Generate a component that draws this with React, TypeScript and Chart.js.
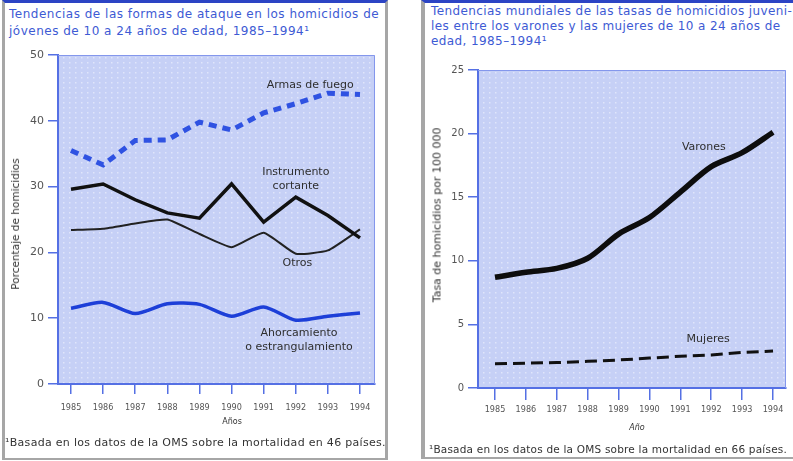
import React, { useEffect, useRef } from "react";
import { Chart, registerables } from "chart.js";

Chart.register(...registerables);

// ---------- data ----------
const years = [1985, 1986, 1987, 1988, 1989, 1990, 1991, 1992, 1993, 1994];

// Left chart: percentage of homicides by method
const armasDeFuego = [35.5, 33.3, 37.0, 37.1, 39.8, 38.6, 41.2, 42.6, 44.2, 44.0];
const instrumentoCortante = [29.6, 30.4, 28.0, 26.0, 25.2, 30.4, 24.6, 28.4, 25.6, 22.2];
const otros = [23.4, 23.6, 24.4, 25.0, 22.8, 20.8, 23.0, 19.8, 20.3, 23.5];
const ahorcamiento = [11.5, 12.4, 10.7, 12.2, 12.1, 10.3, 11.7, 9.7, 10.3, 10.8];

// Right chart: homicide rate per 100 000
const varones = [8.7, 9.1, 9.4, 10.2, 12.1, 13.4, 15.4, 17.4, 18.5, 20.1];
const mujeres = [1.9, 1.95, 2.0, 2.1, 2.2, 2.35, 2.5, 2.6, 2.8, 2.9];

const leftYTicks = [0, 10, 20, 30, 40, 50];
const rightYTicks = [0, 5, 10, 15, 20, 25];

const leftTitle = [
  "Tendencias de las formas de ataque en los homicidios de",
  "jóvenes de 10 a 24 años de edad, 1985–1994¹",
];
const rightTitle = [
  "Tendencias mundiales de las tasas de homicidios juveni-",
  "les entre los varones y las mujeres de 10 a 24 años de",
  "edad, 1985–1994¹",
];
const leftFootnote = "¹Basada en los datos de la OMS sobre la mortalidad en 46 países.";
const rightFootnote = "¹Basada en los datos de la OMS sobre la mortalidad en 66 países.";
const leftYTitle = "Porcentaje de homicidios";
const rightYTitle = "Tasa de homicidios por 100 000";
const leftXTitle = "Años";
const rightXTitle = "Año";

// series labels (data coordinates)
const leftLabels = [
  { lines: ["Armas de fuego"], x: 1992.45, y: 45.4 },
  { lines: ["Instrumento", "cortante"], x: 1992.0, y: 31.1 },
  { lines: ["Otros"], x: 1992.05, y: 18.4 },
  { lines: ["Ahorcamiento", "o estrangulamiento"], x: 1992.1, y: 6.7 },
];
const rightLabels = [
  { lines: ["Varones"], x: 1991.76, y: 18.95 },
  { lines: ["Mujeres"], x: 1991.9, y: 3.85 },
];

// ---------- styles ----------
const AXIS_BLUE = "#5570e4";
const PLOT_BG = "#c6d0f6";
const TICK_COLOR = "#555555";
const TITLE_BLUE = "#3d5ad4";
const NARROW = "'Liberation Sans Narrow', 'DejaVu Sans Condensed', sans-serif";

const bgPlugin = {
  id: "plotBg",
  beforeDraw(chart: any) {
    const { ctx, chartArea: a } = chart;
    ctx.save();
    ctx.fillStyle = PLOT_BG;
    ctx.fillRect(a.left, a.top, a.right - a.left, a.bottom - a.top);
    // light speckle texture
    ctx.fillStyle = "rgba(255,255,255,0.45)";
    for (let y = a.top + 2; y < a.bottom; y += 5) {
      const off = ((y - a.top) / 5) % 2 === 0 ? 0 : 3;
      for (let x = a.left + 2 + off; x < a.right; x += 6) {
        ctx.fillRect(x, y, 1.5, 1.5);
      }
    }
    ctx.restore();
  },
  afterDraw(chart: any) {
    const { ctx, chartArea: a } = chart;
    ctx.save();
    ctx.strokeStyle = "#8497ec";
    ctx.lineWidth = 1;
    ctx.beginPath();
    ctx.moveTo(a.left, a.top + 0.5);
    ctx.lineTo(a.right - 0.5, a.top + 0.5);
    ctx.lineTo(a.right - 0.5, a.bottom);
    ctx.stroke();
    ctx.restore();
  },
};

const labelPlugin = {
  id: "seriesLabels",
  afterDatasetsDraw(chart: any, _args: any, opts: any) {
    const { ctx } = chart;
    const xs = chart.scales.x;
    const ys = chart.scales.y;
    ctx.save();
    ctx.fillStyle = "#2e2e2e";
    ctx.font = "11px 'DejaVu Sans', sans-serif";
    ctx.textAlign = "center";
    ctx.textBaseline = "middle";
    const lh = 14;
    (opts.labels || []).forEach((l: any) => {
      const px = xs.getPixelForValue(l.x);
      const py = ys.getPixelForValue(l.y);
      const n = l.lines.length;
      l.lines.forEach((t: string, i: number) => {
        ctx.fillText(t, px, py + (i - (n - 1) / 2) * lh);
      });
    });
    ctx.restore();
  },
};

function makeConfig(p: {
  datasets: any[];
  xmin: number;
  xmax: number;
  ymax: number;
  yTicks: number[];
  yWidth: number;
  xHeight: number;
  padTop: number;
  padRight: number;
  xTickLength: number;
  xTickPad: number;
  yFontSize: number;
  labels: any[];
}): any {
  return {
    type: "line",
    data: { datasets: p.datasets },
    plugins: [bgPlugin, labelPlugin],
    options: {
      responsive: false,
      animation: false,
      layout: { padding: { top: p.padTop, right: p.padRight, left: 0, bottom: 0 } },
      elements: { point: { radius: 0 } },
      plugins: {
        legend: { display: false },
        tooltip: { enabled: false },
        seriesLabels: { labels: p.labels },
      },
      scales: {
        x: {
          type: "linear",
          min: p.xmin,
          max: p.xmax,
          afterBuildTicks: (s: any) => {
            s.ticks = years.map((v) => ({ value: v }));
          },
          afterFit: (s: any) => {
            s.height = p.xHeight;
          },
          ticks: {
            callback: (v: any) => String(v),
            color: TICK_COLOR,
            font: { family: NARROW, size: 9 },
            padding: p.xTickPad,
            maxRotation: 0,
            autoSkip: false,
          },
          grid: {
            display: true,
            drawOnChartArea: false,
            drawTicks: true,
            tickLength: p.xTickLength,
            color: AXIS_BLUE,
            lineWidth: 1.5,
          },
          border: { display: true, color: AXIS_BLUE, width: 2 },
        },
        y: {
          type: "linear",
          min: 0,
          max: p.ymax,
          afterBuildTicks: (s: any) => {
            s.ticks = p.yTicks.map((v) => ({ value: v }));
          },
          afterFit: (s: any) => {
            s.width = p.yWidth;
          },
          ticks: {
            color: TICK_COLOR,
            font: { family: "'DejaVu Sans', sans-serif", size: p.yFontSize },
            padding: 4,
          },
          grid: {
            display: true,
            drawOnChartArea: false,
            drawTicks: true,
            tickLength: 10,
            color: AXIS_BLUE,
            lineWidth: 1.5,
          },
          border: { display: true, color: AXIS_BLUE, width: 2 },
        },
      },
    },
  };
}

const pts = (vals: number[]) => years.map((y, i) => ({ x: y, y: vals[i] }));

function LeftChart() {
  const ref = useRef<HTMLCanvasElement>(null);
  useEffect(() => {
    const chart = new Chart(
      ref.current!,
      makeConfig({
        datasets: [
          {
            label: "Armas de fuego",
            data: pts(armasDeFuego),
            borderColor: "#2f52e2",
            borderWidth: 5,
            borderDash: [8, 6],
            tension: 0,
          },
          {
            label: "Instrumento cortante",
            data: pts(instrumentoCortante),
            borderColor: "#111111",
            borderWidth: 3.5,
            tension: 0,
          },
          {
            label: "Otros",
            data: pts(otros),
            borderColor: "#222222",
            borderWidth: 2,
            tension: 0.15,
          },
          {
            label: "Ahorcamiento o estrangulamiento",
            data: pts(ahorcamiento),
            borderColor: "#1d3fd8",
            borderWidth: 3.5,
            tension: 0.25,
          },
        ],
        xmin: 1984.595,
        xmax: 1994.467,
        ymax: 50,
        yTicks: leftYTicks,
        yWidth: 58,
        xHeight: 56,
        padTop: 15,
        padRight: 13,
        xTickLength: 10,
        xTickPad: 8,
        yFontSize: 11,
        labels: leftLabels,
      })
    );
    return () => chart.destroy();
  }, []);
  return <canvas ref={ref} width={388} height={400} />;
}

function RightChart() {
  const ref = useRef<HTMLCanvasElement>(null);
  useEffect(() => {
    const chart = new Chart(
      ref.current!,
      makeConfig({
        datasets: [
          {
            label: "Varones",
            data: pts(varones),
            borderColor: "#0d0d0d",
            borderWidth: 5.5,
            tension: 0.3,
          },
          {
            label: "Mujeres",
            data: pts(mujeres),
            borderColor: "#111111",
            borderWidth: 3,
            borderDash: [12, 6],
            tension: 0,
          },
        ],
        xmin: 1984.45,
        xmax: 1994.42,
        ymax: 25,
        yTicks: rightYTicks,
        yWidth: 58,
        xHeight: 52,
        padTop: 20,
        padRight: 7,
        xTickLength: 12,
        xTickPad: 4,
        yFontSize: 10,
        labels: rightLabels,
      })
    );
    return () => chart.destroy();
  }, []);
  return <canvas ref={ref} width={373} height={390} />;
}

const abs = (s: React.CSSProperties): React.CSSProperties => ({ position: "absolute", ...s });

export default function App() {
  const titleStyle: React.CSSProperties = {
    color: TITLE_BLUE,
    fontFamily: "'DejaVu Sans', sans-serif",
    fontSize: 12,
    letterSpacing: "0.5px",
    whiteSpace: "nowrap",
  };
  const noteStyle: React.CSSProperties = {
    color: "#333",
    fontFamily: "'DejaVu Sans', sans-serif",
    fontSize: 11,
    letterSpacing: "0.3px",
    whiteSpace: "nowrap",
  };
  const axisTitle: React.CSSProperties = {
    color: "#333",
    fontFamily: "'DejaVu Sans', sans-serif",
    fontSize: 11,
    whiteSpace: "nowrap",
  };
  return (
    <div
      style={abs({
        left: 0,
        top: 0,
        width: 793,
        height: 461,
        background: "#ffffff",
        overflow: "hidden",
      })}
    >
      {/* frames */}
      <div
        style={abs({
          left: 2,
          top: 0,
          width: 386,
          height: 460,
          boxSizing: "border-box",
          borderLeft: "3px solid #a6a6a6",
          borderRight: "3px solid #a6a6a6",
          borderBottom: "2px solid #a6a6a6",
          borderTop: "3px solid #2c44c4",
        })}
      />
      <div
        style={abs({
          left: 421,
          top: 0,
          width: 375,
          height: 459,
          boxSizing: "border-box",
          borderLeft: "4px solid #a6a6a6",
          borderBottom: "2px solid #a6a6a6",
          borderTop: "3px solid #2c44c4",
        })}
      />

      {/* titles */}
      <div style={abs({ left: 9, top: 6, lineHeight: "17px", ...titleStyle })}>
        {leftTitle.map((t, i) => (
          <div key={i}>{t}</div>
        ))}
      </div>
      <div style={abs({ left: 431, top: 4, lineHeight: "15px", ...titleStyle, letterSpacing: "0.4px" })}>
        {rightTitle.map((t, i) => (
          <div key={i}>{t}</div>
        ))}
      </div>

      {/* charts */}
      <div style={abs({ left: 0, top: 40, width: 388, height: 400 })}>
        <LeftChart />
      </div>
      <div style={abs({ left: 420, top: 50, width: 373, height: 390 })}>
        <RightChart />
      </div>

      {/* axis titles */}
      <div
        style={abs({
          left: 15,
          top: 224,
          transform: "translate(-50%, -50%) rotate(-90deg)",
          ...axisTitle,
          fontSize: 10.5,
        })}
      >
        {leftYTitle}
      </div>
      <div
        style={abs({
          left: 437,
          top: 215,
          transform: "translate(-50%, -50%) rotate(-90deg)",
          ...axisTitle,
        })}
      >
        {rightYTitle}
      </div>
      <div style={abs({ left: 232, top: 421, transform: "translate(-50%, -50%)", ...axisTitle, fontSize: 8 })}>
        {leftXTitle}
      </div>
      <div
        style={abs({
          left: 637,
          top: 427,
          transform: "translate(-50%, -50%)",
          ...axisTitle,
          fontSize: 8,
          fontStyle: "italic",
        })}
      >
        {rightXTitle}
      </div>

      {/* footnotes */}
      <div style={abs({ left: 5, top: 436, ...noteStyle })}>{leftFootnote}</div>
      <div style={abs({ left: 429, top: 443, ...noteStyle, fontSize: 10.5, letterSpacing: "0.2px" })}>
        {rightFootnote}
      </div>
    </div>
  );
}
